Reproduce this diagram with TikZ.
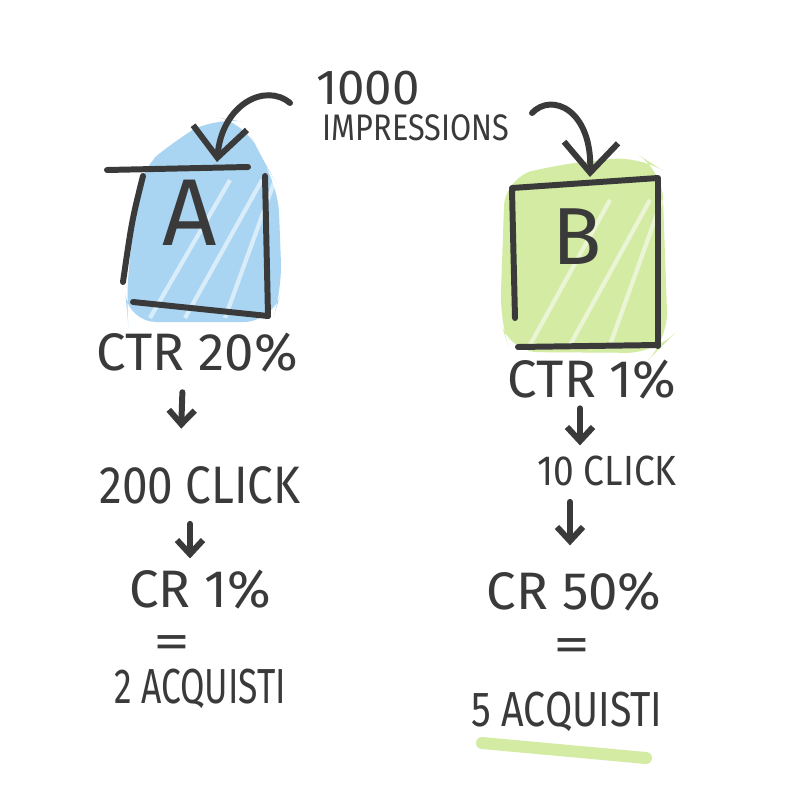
\documentclass[tikz,border=0pt]{standalone}
\usepackage{fontspec}
\setmainfont{Fira Sans}
\usetikzlibrary{arrows.meta,positioning}
\definecolor{ink}{HTML}{3A3A3A}
\definecolor{skyA}{HTML}{A9D5F3}
\definecolor{limeB}{HTML}{D3EBA2}

\begin{document}
\begin{tikzpicture}[x=0.01cm,y=-0.01cm,
  pen/.style={ink,line width=1.7pt,line cap=round},
  lbl/.style={ink,font=\fontsize{15}{18}\selectfont,inner sep=0pt},
  sml/.style={ink,font=\fontsize{10.5}{13}\selectfont,inner sep=0pt},
  eqsign/.style={ink,font=\fontsize{14}{15}\selectfont,inner sep=0pt,xscale=1.5},
  bigarr/.style={pen,-{Straight Barb[length=3mm,width=5.4mm]}},
  downarr/.style={pen,-{Straight Barb[length=1.4mm,width=2.6mm]}}]
  \useasboundingbox (0,0) rectangle (800,800);
  \fill[white] (0,0) rectangle (800,800);

  % coloured patches
  \fill[skyA,rounded corners=8] (138,172) -- (175,140) -- (215,117) -- (245,122)
    -- (262,160) -- (278,185) -- (282,290) -- (272,322) -- (128,322) -- (126,300) -- cycle;
  \fill[limeB,rounded corners=8] (505,178) -- (555,165) -- (640,156) -- (662,170)
    -- (668,340) -- (655,353) -- (510,352) -- (500,320) -- cycle;
  \foreach \a/\b in {150/230,185/262,225/275}
    \draw[white,opacity=0.55,line width=1.2pt] (\a,318) -- (\b,180);
  \foreach \a/\b in {530/610,570/650,610/662}
    \draw[white,opacity=0.55,line width=1.2pt] (\a,345) -- (\b,200);
  \draw[limeB,line width=3.4pt,line cap=round] (482,743) -- (646,758);

  % box A
  \draw[pen] (107,170) -- (248,167);
  \draw[pen] (143,176) .. controls (132,220) .. (123,282);
  \draw[pen] (265,176) -- (268,316);
  \draw[pen] (133,302) -- (268,316);
  % box B
  \draw[pen] (512,188) -- (658,178);
  \draw[pen] (512,190) -- (515,318);
  \draw[pen] (658,180) -- (658,346);
  \draw[pen] (518,347) -- (658,345);

  % labels
  \node[ink,font=\fontsize{14}{16}\selectfont,inner sep=0pt] (thousand) at (368,88) {1000};
  \node[sml,xscale=0.83] (impr) at (416,128) {IMPRESSIONS};
  \node[ink,font=\fontsize{27}{30}\selectfont,inner sep=0pt] (varA) at (190,213) {A};
  \node[ink,font=\fontsize{23}{26}\selectfont,inner sep=0pt] (varB) at (577,237) {B};

  \node[lbl] (ctrA) at (197,353) {CTR 20\%};
  \node[lbl,xscale=0.87] (clkA) at (200,485) {200 CLICK};
  \node[lbl] (crA) at (200,590) {CR 1\%};
  \node[eqsign] (eqA) at (172,647) {=};
  \node[lbl,font=\fontsize{14}{16}\selectfont,xscale=0.72] (buyA) at (200,689) {2 ACQUISTI};

  \node[lbl] (ctrB) at (592,380) {CTR 1\%};
  \node[sml,font=\fontsize{12}{14}\selectfont,xscale=0.88] (clkB) at (607,471) {10 CLICK};
  \node[lbl] (crB) at (574,592) {CR 50\%};
  \node[eqsign] (eqB) at (572,650) {=};
  \node[lbl,font=\fontsize{14}{16}\selectfont,xscale=0.8] (buyB) at (567,712) {5 ACQUISTI};

  % connectors
  \coordinate (fromA) at (290,103);
  \coordinate (topA) at (217,162);
  \coordinate (fromB) at (532,113);
  \coordinate (topB) at (590,177);
  \draw[bigarr] (fromA) .. controls (265,82) and (222,105) .. (topA);
  \draw[bigarr] (fromB) .. controls (552,92) and (592,110) .. (topB);

  \draw[downarr,shorten <=5.4pt,shorten >=10.5pt]
    ([xshift=-0.14cm]ctrA.south) -- ([xshift=-0.2cm]clkA.north);
  \draw[downarr,shorten <=5.5pt,shorten >=3.2pt]
    ([xshift=-0.1cm]clkA.south) -- ([xshift=-0.1cm]crA.north);
  \draw[downarr,shorten <=2.3pt,shorten >=2.8pt]
    ([xshift=-0.12cm]ctrB.south) -- ([xshift=-0.27cm]clkB.north);
  \draw[downarr,shorten <=4.3pt,shorten >=7.5pt]
    ([xshift=-0.37cm]clkB.south) -- ([xshift=-0.04cm]crB.north);
\end{tikzpicture}
\end{document}
